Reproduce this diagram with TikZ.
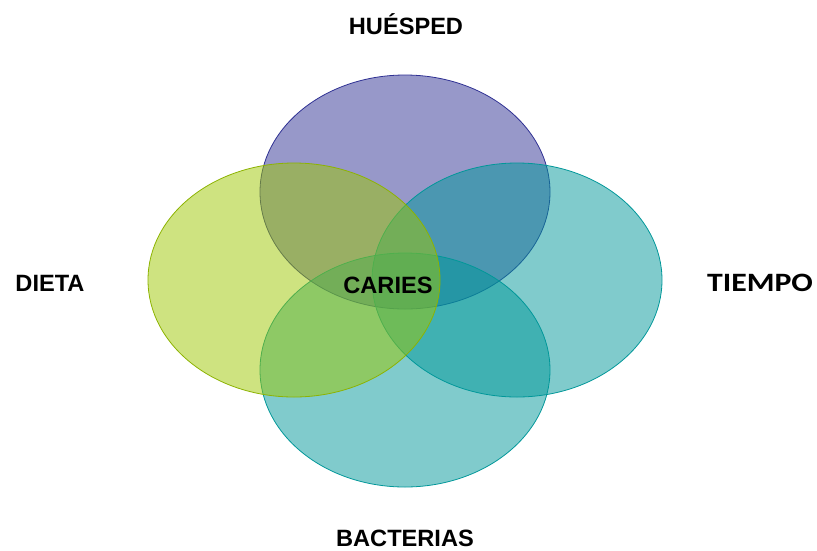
\documentclass[tikz,border=0pt]{standalone}
\usepackage{fontspec}
\setmainfont{Liberation Sans}
\newfontfamily\tfont{Carlito}
\definecolor{cpurple}{RGB}{47,49,147}
\definecolor{cyellow}{RGB}{157,199,1}
\definecolor{cteal}{RGB}{1,151,153}
\begin{document}
\begin{tikzpicture}[x=1pt,y=-1pt,
  venn/.style={line width=0.8pt, fill opacity=0.5},
  lab/.style={font=\fontsize{23.6}{26}\selectfont\bfseries, inner sep=0pt}]
\useasboundingbox (0,0) rectangle (817,550);
\draw[venn, draw=cpurple, fill=cpurple] (405,192) ellipse [x radius=145pt, y radius=117pt];
\draw[venn, draw=cteal, fill=cteal] (517,280) ellipse [x radius=145pt, y radius=117pt];
\draw[venn, draw=cteal, fill=cteal] (405,370) ellipse [x radius=145pt, y radius=117pt];
\draw[venn, draw=cyellow!90!black, fill=cyellow] (294,280) ellipse [x radius=146pt, y radius=117pt];
\node[lab] (h) at (406,24) {HUÉSPED};
\node[lab] (d) at (50,283) {DIETA};
\node[lab, font=\tfont\fontsize{26.5}{30}\selectfont\bfseries] (t) at (760,283) {\scalebox{1.2}[1]{TIEMPO}};
\node[lab] (b) at (405,538) {BACTERIAS};
\node[lab] (c) at (388,285) {CARIES};
\end{tikzpicture}
\end{document}
